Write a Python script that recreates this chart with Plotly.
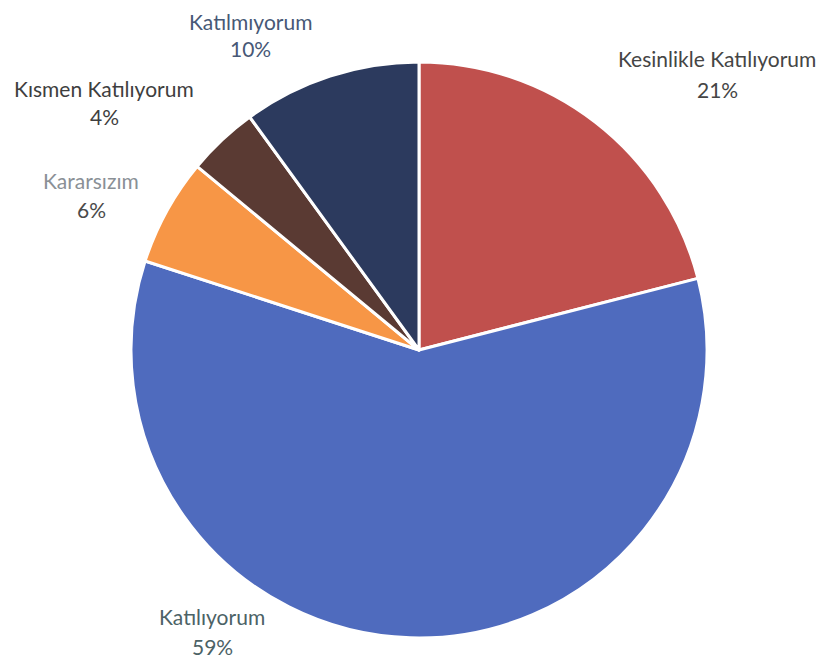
import plotly.graph_objects as go

categories = ["Kesinlikle Katılıyorum", "Katılıyorum", "Kararsızım", "Kısmen Katılıyorum", "Katılmıyorum"]
values = [21, 59, 6, 4, 10]
slice_colors = ["#C0504D", "#4F6BBE", "#F79646", "#5A3A33", "#2C3A5E"]
label_colors = ["#454545", "#4C6266", "#8A9096", "#3E3E3E", "#475876"]
pct_colors = ["#454545", "#4C6266", "#4A4A4A", "#3E3E3E", "#475876"]

W, H = 825, 663
OFF = 8  # browser default body margin
cx, cy, r = 419 - OFF, 350 - OFF, 288

fig = go.Figure(go.Pie(
    labels=categories,
    values=values,
    sort=False,
    direction="clockwise",
    rotation=0,
    marker=dict(colors=slice_colors, line=dict(color="white", width=3)),
    textinfo="none",
    hoverinfo="label+percent",
    domain=dict(x=[(cx - r) / W, (cx + r) / W], y=[(H - cy - r) / H, (H - cy + r) / H]),
    showlegend=False,
))

# label pixel centres in the screenshot: (x, name-line y, percent-line y)
label_pos = {
    "Kesinlikle Katılıyorum": (717, 59, 89),
    "Katılıyorum": (212, 616, 646),
    "Kararsızım": (91, 181, 209),
    "Kısmen Katılıyorum": (104, 88, 117),
    "Katılmıyorum": (250, 21, 48),
}

total = sum(values)
annotations = []
for cat, v, lc, pc in zip(categories, values, label_colors, pct_colors):
    px, py1, py2 = label_pos[cat]
    px -= OFF
    py1 -= OFF
    py2 -= OFF
    annotations.append(dict(x=px / W, y=1 - py1 / H, xref="paper", yref="paper",
                            text=cat, showarrow=False, xanchor="center", yanchor="middle",
                            borderpad=0,
                            font=dict(family="Lato", size=21, color=lc)))
    annotations.append(dict(x=px / W, y=1 - py2 / H, xref="paper", yref="paper",
                            text=f"{round(100 * v / total)}%", showarrow=False,
                            xanchor="center", yanchor="middle", borderpad=0,
                            font=dict(family="Lato", size=21, color=pc)))

fig.update_layout(
    width=W, height=H,
    margin=dict(l=0, r=0, t=0, b=0),
    paper_bgcolor="white", plot_bgcolor="white",
    annotations=annotations,
)

fig.write_html("out.html")
